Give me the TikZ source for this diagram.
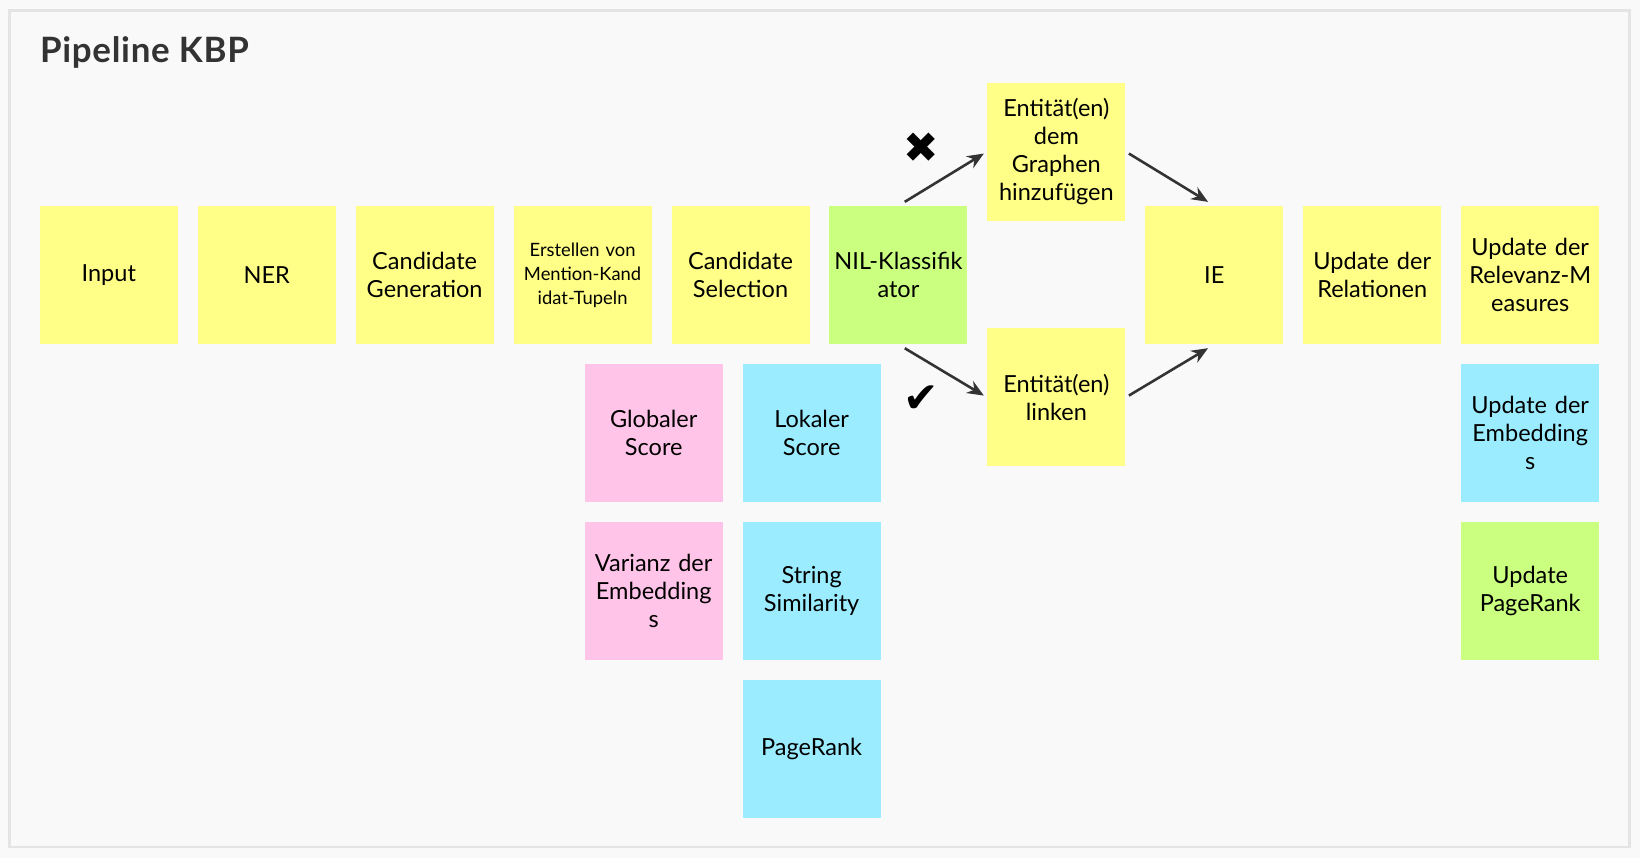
\documentclass[tikz,border=0pt]{standalone}
\usepackage{fontspec}
\setmainfont{Lato}
\newfontfamily\titlefont[LetterSpace=2]{Lato}
\newfontfamily\symfont{DejaVu Sans}
\usetikzlibrary{positioning,arrows.meta}
\definecolor{noteyellow}{RGB}{255,255,136}
\definecolor{notegreen}{RGB}{202,255,128}
\definecolor{notepink}{RGB}{255,196,232}
\definecolor{noteblue}{RGB}{156,236,255}
\definecolor{framegray}{RGB}{228,228,228}
\definecolor{boardgray}{RGB}{249,249,249}
\definecolor{inkgray}{RGB}{51,51,51}

\begin{document}
\begin{tikzpicture}[
    x=0.02cm, y=-0.02cm,
    note/.style={rectangle, minimum width=2.64cm, minimum height=2.64cm, inner sep=0pt, text width=2.6cm, align=center, font=\fontsize{12.8}{15.2}\selectfont, text=black},
    yellownote/.style={note, fill=noteyellow},
    greennote/.style={note, fill=notegreen},
    pinknote/.style={note, fill=notepink},
    bluenote/.style={note, fill=noteblue},
    arrow/.style={-{Stealth[length=9pt,width=7.5pt]}, line width=1.4pt, draw=inkgray, shorten <=4pt, shorten >=2pt},
    checkmark/.style={font=\symfont\fontsize{23}{23}\selectfont, text=black}
]

% Board
\fill[boardgray] (0,0) rectangle (1568,820);
\draw[framegray, line width=1.2pt, fill=boardgray] (9,10) rectangle (1558,810);
\node[anchor=base west, inner sep=0pt, text=inkgray, font=\titlefont\bfseries\fontsize{19}{22}\selectfont] (title) at (38,60) {Pipeline KBP};

% Main row
\node[yellownote] (input) at (104,263) {Input};
\node[yellownote] (ner) at (255,263) {NER};
\node[yellownote] (candgen) at (406,263) {Candidate\\Generation};
\node[yellownote, font=\fontsize{10}{13}\selectfont] (tupel) at (557,263) {Erstellen von\\Mention-Kand\\idat-Tupeln};
\node[yellownote] (candsel) at (708,263) {Candidate\\Selection};
\node[greennote] (nil) at (859,263) {NIL-Klassifik\\ator};
\node[yellownote] (ie) at (1161,263) {IE};
\node[yellownote] (relupd) at (1312,263) {Update der\\Relationen};
\node[yellownote] (relevanz) at (1463,263) {Update der\\Relevanz-M\\easures};

% Branches
\node[yellownote] (graph) at (1010,145) {Entität(en)\\dem\\Graphen\\hinzufügen};
\node[yellownote] (linken) at (1010,380) {Entität(en)\\linken};

% Scores
\node[pinknote] (global) at (625,414) {Globaler\\Score};
\node[pinknote] (varianz) at (625,565) {Varianz der\\Embedding\\s};
\node[bluenote] (lokal) at (776,414) {Lokaler\\Score};
\node[bluenote] (string) at (776,565) {String\\Similarity};
\node[bluenote] (pagerank) at (776,716) {PageRank};

% Updates
\node[bluenote] (embupd) at (1463,414) {Update der\\Embedding\\s};
\node[greennote] (prupd) at (1463,565) {Update\\PageRank};

% Marks
\node[checkmark] (nomark) at (881,141) {✖};
\node[checkmark] (yesmark) at (881,382) {✔};

% Connections
\draw[arrow] (nil.north) -- (graph.west);
\draw[arrow] (nil.south) -- (linken.west);
\draw[arrow, shorten <=2pt, shorten >=4pt] (graph.east) -- (ie.north);
\draw[arrow, shorten <=2pt, shorten >=4pt] (linken.east) -- (ie.south);

\end{tikzpicture}
\end{document}
